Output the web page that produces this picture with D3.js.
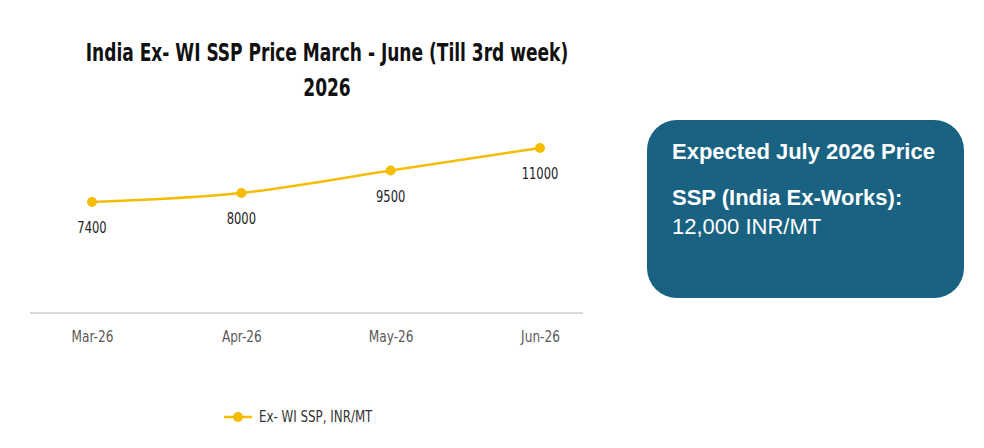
<!DOCTYPE html>
<html><head><meta charset="utf-8">
<script src="https://cdn.jsdelivr.net/npm/d3@7"></script>
<style>
html,body{margin:0;padding:0;background:#fff;}
svg{display:block;}
</style></head>
<body>
<svg id="c" width="984" height="448"></svg>
<script>
const categories = ["Mar-26","Apr-26","May-26","Jun-26"];
const values = [7400, 8000, 9500, 11000];
const seriesName = "Ex- WI SSP, INR/MT";
const titleLines = ["India Ex- WI SSP Price March - June (Till 3rd week)", "2026"];
const boxTitle = "Expected July 2026 Price";
const boxLine1 = "SSP (India Ex-Works):";
const boxLine2 = "12,000 INR/MT";

const cond = "'DejaVu Sans Condensed','DejaVu Sans',sans-serif";
const arial = "'Liberation Sans',Arial,sans-serif";
const svg = d3.select("#c");
const lineColor = "#F5BD02";

const x = d3.scalePoint().domain(categories).range([92, 540]);
const y = d3.scaleLinear().domain([0, 12000]).range([313, 133]);

// title (horizontally condensed to mimic the narrow face)
svg.selectAll("text.title").data(titleLines).join("text")
  .attr("class","title")
  .attr("transform",(d,i)=>`translate(327,${61 + i*35}) scale(0.79,1)`)
  .attr("text-anchor","middle")
  .attr("font-family", cond).attr("font-weight","bold")
  .attr("font-size", 24).attr("fill","#111")
  .text(d=>d);

// axis
const xAxis = d3.axisBottom(x).tickSize(0).tickPadding(18);
const ax = svg.append("g").attr("transform","translate(0,313)").call(xAxis);
ax.select(".domain").remove();
ax.append("line").attr("x1",30).attr("x2",583).attr("y1",0).attr("y2",0)
  .attr("stroke","#d9d9d9").attr("stroke-width",2);
ax.selectAll(".tick text").attr("font-family", cond).attr("font-size", 15)
  .attr("fill","#595959").attr("transform","scale(0.9,1)")
  .attr("x", 0);

// line
const line = d3.line().x((d,i)=>x(categories[i])).y(d=>y(d)).curve(d3.curveMonotoneX);
svg.append("path").datum(values).attr("d", line)
  .attr("fill","none").attr("stroke", lineColor).attr("stroke-width", 2.5);
svg.selectAll("circle.pt").data(values).join("circle")
  .attr("class","pt")
  .attr("cx",(d,i)=>x(categories[i])).attr("cy", d=>y(d)).attr("r",5)
  .attr("fill", lineColor);
svg.selectAll("text.lbl").data(values).join("text")
  .attr("class","lbl")
  .attr("transform",(d,i)=>`translate(${x(categories[i])},${y(d)+31}) scale(0.8,1)`)
  .attr("text-anchor","middle")
  .attr("font-family", cond).attr("font-size", 16).attr("fill","#222")
  .text(d=>d);

// legend
const lg = svg.append("g").attr("transform","translate(224,417)");
lg.append("line").attr("x1",0).attr("x2",28).attr("y1",0).attr("y2",0)
  .attr("stroke", lineColor).attr("stroke-width",2.5);
lg.append("circle").attr("cx",14).attr("cy",0).attr("r",5).attr("fill",lineColor);
lg.append("text").attr("transform","translate(35,5) scale(0.88,1)").attr("font-family",cond)
  .attr("font-size",15).attr("fill","#333").text(seriesName);

// box
const bx = svg.append("g");
bx.append("rect").attr("x",647).attr("y",120).attr("width",317).attr("height",178)
  .attr("rx",30).attr("ry",30).attr("fill","#196282");
bx.append("text").attr("x",672).attr("y",159).attr("font-family",arial)
  .attr("font-weight","bold").attr("font-size",22).attr("fill","#fff").text(boxTitle);
bx.append("text").attr("x",672).attr("y",205).attr("font-family",arial)
  .attr("font-weight","bold").attr("font-size",22).attr("fill","#fff").text(boxLine1);
bx.append("text").attr("x",672).attr("y",234).attr("font-family",arial)
  .attr("font-size",22).attr("fill","#fff").text(boxLine2);
</script>
</body></html>
